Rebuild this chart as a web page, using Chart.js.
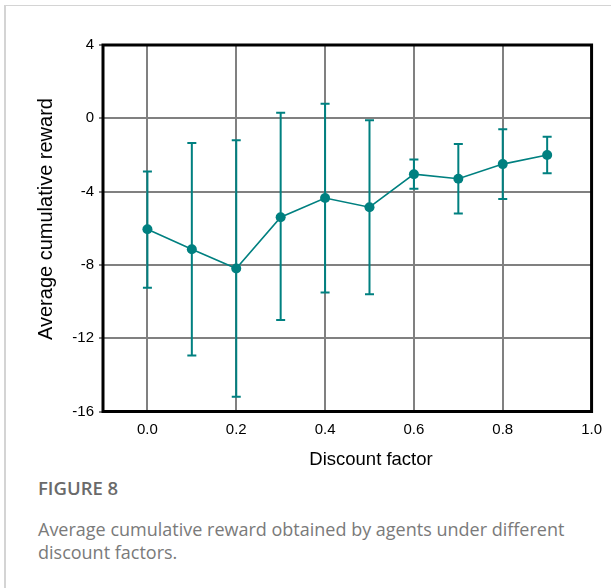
<!DOCTYPE html>
<html>
<head>
<meta charset="utf-8">
<script src="https://cdn.jsdelivr.net/npm/chart.js@4"></script>
<style>
  html, body { margin: 0; padding: 0; background: #fff; }
  #wrap { position: relative; width: 611px; height: 588px; overflow: hidden; background: #fff; }
  #frame { position: absolute; left: 4px; top: 5px; width: 800px; height: 800px;
           border-left: 2px solid #d4d4d4; border-top: 1px solid #d4d4d4; }
  #chart { position: absolute; left: 0; top: 0; }
  .axis-title { position: absolute; font-family: "Liberation Sans", Arial, sans-serif;
                color: #000; white-space: nowrap; line-height: 1; }
  #ytitle { left: 45px; top: 219px; font-size: 20px; transform: translate(-50%, -50%) rotate(-90deg); }
  #xtitle { left: 371px; top: 459px; font-size: 18.5px; transform: translate(-50%, -50%); }
  #fig { position: absolute; left: 38px; top: 477px; font-family: "Open Sans", sans-serif;
         font-weight: 600; font-size: 18.5px; color: #6a6a6a; line-height: 22px; }
  #caption { position: absolute; left: 38px; top: 518px; width: 560px; font-family: "Open Sans", sans-serif;
             font-size: 18px; color: #7a7a7a; line-height: 23px; }
</style>
</head>
<body>
<div id="wrap">
  <div id="frame"></div>
  <canvas id="chart" width="611" height="470"></canvas>
  <div class="axis-title" id="ytitle">Average cumulative reward</div>
  <div class="axis-title" id="xtitle">Discount factor</div>
  <div id="fig">FIGURE 8</div>
  <div id="caption">Average cumulative reward obtained by agents under different discount factors.</div>
</div>
<script>
// Discount factors tested and the mean cumulative reward for each
const discountFactors = [0.0, 0.1, 0.2, 0.3, 0.4, 0.5, 0.6, 0.7, 0.8, 0.9];
const meanReward      = [-6.05, -7.15, -8.2, -5.4, -4.35, -4.85, -3.05, -3.3, -2.5, -2.0];
// Upper and lower ends of the error bars
const rewardUpper     = [-2.9, -1.35, -1.2, 0.3, 0.8, -0.1, -2.25, -1.4, -0.6, -1.0];
const rewardLower     = [-9.25, -12.95, -15.2, -11.0, -9.5, -9.6, -3.85, -5.2, -4.4, -3.0];
// Axis tick values
const xTickValues = [0.0, 0.2, 0.4, 0.6, 0.8, 1.0];
const yTickValues = [4, 0, -4, -8, -12, -16];

const teal = '#008080';

// Vertical error bars with short caps, drawn through the chart scales
const errorBars = {
  id: 'errorBars',
  beforeDatasetsDraw(chart) {
    const { ctx, scales: { x, y } } = chart;
    ctx.save();
    ctx.strokeStyle = teal;
    ctx.lineWidth = 2;
    const cap = 4.5;
    discountFactors.forEach((d, i) => {
      const px = x.getPixelForValue(d);
      const top = y.getPixelForValue(rewardUpper[i]);
      const bot = y.getPixelForValue(rewardLower[i]);
      ctx.beginPath();
      ctx.moveTo(px, top); ctx.lineTo(px, bot);
      ctx.moveTo(px - cap, top); ctx.lineTo(px + cap, top);
      ctx.moveTo(px - cap, bot); ctx.lineTo(px + cap, bot);
      ctx.stroke();
    });
    ctx.restore();
  }
};

// Black frame around the plotting area
const plotFrame = {
  id: 'plotFrame',
  beforeDatasetsDraw(chart) {
    const { ctx, chartArea: a } = chart;
    ctx.save();
    ctx.strokeStyle = '#000';
    ctx.lineWidth = 3;
    ctx.strokeRect(a.left, a.top, a.right - a.left, a.bottom - a.top);
    ctx.restore();
  }
};

const tickFont = { family: '"Liberation Sans", Arial, sans-serif', size: 15 };

new Chart(document.getElementById('chart'), {
  type: 'scatter',
  data: {
    datasets: [{
      data: discountFactors.map((d, i) => ({ x: d, y: meanReward[i] })),
      showLine: true,
      borderColor: teal,
      backgroundColor: teal,
      borderWidth: 1.6,
      pointRadius: 5,
      pointBorderWidth: 0,
      pointBackgroundColor: teal
    }]
  },
  options: {
    responsive: false,
    animation: false,
    devicePixelRatio: 1,
    layout: { padding: { top: 45, right: 16, left: 0, bottom: 0 } },
    plugins: { legend: { display: false }, tooltip: { enabled: false } },
    scales: {
      x: {
        type: 'linear',
        min: -0.1,
        max: 1.0,
        afterBuildTicks: s => { s.ticks = xTickValues.map(v => ({ value: v })); },
        afterFit: s => { s.height = 58.5; },
        grid: { color: '#808080', lineWidth: 2, drawTicks: false },
        border: { display: false },
        ticks: { font: tickFont, color: '#000', padding: 9, maxRotation: 0,
                 callback: v => Number(v).toFixed(1) }
      },
      y: {
        type: 'linear',
        min: -16,
        max: 4,
        afterBuildTicks: s => { s.ticks = yTickValues.map(v => ({ value: v })); },
        afterFit: s => { s.width = 103; },
        grid: { color: '#808080', lineWidth: 2, tickLength: 4 },
        border: { display: false },
        ticks: { font: tickFont, color: '#000', padding: 5 }
      }
    }
  },
  plugins: [errorBars, plotFrame]
});
</script>
</body>
</html>
